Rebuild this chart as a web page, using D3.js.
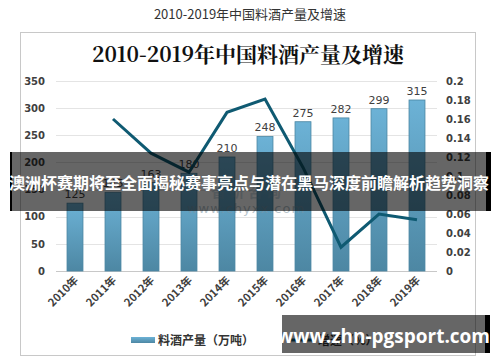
<!DOCTYPE html>
<html>
<head>
<meta charset="utf-8">
<script src="https://cdn.jsdelivr.net/npm/d3@7"></script>
<style>
  body { margin: 0; background: #fff; }
  svg { display: block; font-family: "Noto Sans CJK SC", "DejaVu Sans", sans-serif; }
</style>
</head>
<body>
<svg id="chart" width="500" height="362"></svg>
<script>
// data
const years = ["2010年", "2011年", "2012年", "2013年", "2014年", "2015年", "2016年", "2017年", "2018年", "2019年"];
const output = [125, 145, 163, 180, 210, 248, 275, 282, 299, 315];
const growth = [null, 0.16, 0.124, 0.104, 0.167, 0.181, 0.109, 0.025, 0.06, 0.054];
const leftTicks = [0, 50, 100, 150, 200, 250, 300, 350];
const rightTicks = [0, 0.02, 0.04, 0.06, 0.08, 0.1, 0.12, 0.14, 0.16, 0.18, 0.2];

const svg = d3.select("#chart");

// gradient for the bars
let defs = svg.append("defs");
let grad = defs.append("linearGradient").attr("id", "barGrad")
    .attr("x1", 0).attr("y1", 0).attr("x2", 0).attr("y2", 1);
grad.append("stop").attr("offset", "0%").attr("stop-color", "#6cb2d6");
grad.append("stop").attr("offset", "100%").attr("stop-color", "#4d87a3");

// outer title
svg.append("text")
    .attr("x", 250).attr("y", 19)
    .attr("text-anchor", "middle")
    .attr("font-size", "13px")
    .attr("fill", "#333")
    .text("2010-2019年中国料酒产量及增速");

// chart box
svg.append("rect")
    .attr("x", 20.5).attr("y", 32.5)
    .attr("width", 455).attr("height", 323)
    .attr("fill", "#fff")
    .attr("stroke", "#c8c8c8");

svg.append("text")
    .attr("x", 248).attr("y", 62)
    .attr("text-anchor", "middle")
    .attr("font-family", "'Noto Serif CJK SC', 'DejaVu Serif', serif")
    .attr("font-weight", "bold")
    .attr("font-size", "21px")
    .attr("fill", "#111")
    .text("2010-2019年中国料酒产量及增速");

const x = d3.scaleBand().domain(years).range([56, 436]).paddingInner(0.58).paddingOuter(0.29);
const yL = d3.scaleLinear().domain([0, 350]).range([271, 81]);
const yR = d3.scaleLinear().domain([0, 0.2]).range([271, 81]);

// grid
svg.append("g").selectAll("line")
    .data(leftTicks)
    .enter().append("line")
    .attr("x1", 56).attr("x2", 437)
    .attr("y1", d => Math.round(yL(d)) + 0.5)
    .attr("y2", d => Math.round(yL(d)) + 0.5)
    .attr("stroke", d => d === 0 ? "#c8c8c8" : "#e4e4e4");

// left axis
let axL = svg.append("g")
    .attr("transform", "translate(45,0)")
    .call(d3.axisLeft(yL).tickValues(leftTicks).tickSize(0).tickPadding(0));
axL.select(".domain").remove();
axL.selectAll("text")
    .attr("font-size", "10px").attr("font-weight", "bold")
    .attr("fill", "#404040").attr("font-family", "'DejaVu Sans', sans-serif");

// right axis
let axR = svg.append("g")
    .attr("transform", "translate(446,0)")
    .call(d3.axisRight(yR).tickValues(rightTicks).tickSize(0).tickPadding(0).tickFormat(d => d3.format("")(+d.toFixed(2))));
axR.select(".domain").remove();
axR.selectAll("text")
    .attr("font-size", "10px").attr("font-weight", "bold")
    .attr("fill", "#404040").attr("font-family", "'DejaVu Sans', sans-serif");

// bars
svg.append("g").selectAll("rect")
    .data(output)
    .enter().append("rect")
    .attr("x", (d, i) => x(years[i]))
    .attr("y", d => yL(d))
    .attr("width", x.bandwidth())
    .attr("height", d => yL(0) - yL(d))
    .attr("fill", "url(#barGrad)")
    .attr("stroke", "#4a86a2")
    .attr("stroke-width", 0.8);

// bar labels
svg.append("g").selectAll("text")
    .data(output)
    .enter().append("text")
    .attr("x", (d, i) => x(years[i]) + x.bandwidth() / 2)
    .attr("y", d => yL(d) - 5)
    .attr("text-anchor", "middle")
    .attr("font-size", "11px")
    .attr("font-family", "'DejaVu Sans', sans-serif")
    .attr("fill", "#404040")
    .text(d => d);

// watermark
svg.append("text")
    .attr("x", 246).attr("y", 197)
    .attr("text-anchor", "middle")
    .attr("font-size", "15px").attr("font-weight", "bold")
    .attr("fill", "#7fa6ba").attr("opacity", 0.35)
    .text("智 研 咨 询");
svg.append("text")
    .attr("x", 246).attr("y", 213)
    .attr("text-anchor", "middle")
    .attr("font-size", "13px")
    .attr("font-family", "'DejaVu Sans', sans-serif")
    .attr("letter-spacing", "1px")
    .attr("fill", "#7e97a6").attr("opacity", 0.55)
    .text("www.chyxx.com");

// growth line
let line = d3.line()
    .defined(d => d !== null)
    .x((d, i) => x(years[i]) + x.bandwidth() / 2)
    .y(d => yR(d));
svg.append("path")
    .datum(growth)
    .attr("d", line)
    .attr("fill", "none")
    .attr("stroke", "#0f5a72")
    .attr("stroke-width", 3)
    .attr("stroke-linejoin", "miter");

// x labels
svg.append("g").selectAll("text")
    .data(years)
    .enter().append("text")
    .attr("transform", d => `translate(${x(d) + x.bandwidth() / 2 + 4},${281}) rotate(-45)`)
    .attr("text-anchor", "end")
    .attr("font-size", "11px")
    .attr("font-weight", "bold")
    .attr("fill", "#404040")
    .attr("font-family", "'Noto Sans CJK SC', sans-serif")
    .text(d => d);

// legend
svg.append("rect")
    .attr("x", 131).attr("y", 337).attr("width", 24).attr("height", 6)
    .attr("fill", "url(#barGrad)");
svg.append("text")
    .attr("x", 158).attr("y", 345)
    .attr("font-size", "12px").attr("font-weight", "bold")
    .attr("fill", "#333")
    .text("料酒产量（万吨）");
svg.append("line")
    .attr("x1", 288).attr("x2", 313).attr("y1", 340).attr("y2", 340)
    .attr("stroke", "#0f5a72").attr("stroke-width", 3);
svg.append("text")
    .attr("x", 318).attr("y", 345)
    .attr("font-size", "12px").attr("font-weight", "bold")
    .attr("fill", "#333")
    .text("增速（%）");

// overlay banners
function banner(x0, y0, w, h, txt, size, ty, family) {
    svg.append("rect")
        .attr("x", x0).attr("y", y0).attr("width", w).attr("height", h)
        .attr("fill", "#000").attr("opacity", 0.6);
    svg.append("rect")
        .attr("x", x0 + w).attr("y", y0).attr("width", 5).attr("height", h)
        .attr("fill", "#000");
    svg.append("text")
        .attr("x", x0 + w / 2).attr("y", ty)
        .attr("text-anchor", "middle")
        .attr("font-size", size)
        .attr("font-weight", "bold")
        .attr("font-family", family)
        .attr("fill", "#fff")
        .text(txt);
}
svg.append("rect").attr("x", 10).attr("y", 152).attr("width", 2).attr("height", 59).attr("fill", "#000");
banner(12, 152, 474, 59, "澳洲杯赛期将至全面揭秘赛事亮点与潜在黑马深度前瞻解析趋势洞察", "16px", 189, "'Noto Sans CJK SC', sans-serif");
banner(282, 315, 203, 38, "www.zhn-pgsport.com", "19px", 343, "'Open Sans', 'DejaVu Sans', sans-serif");
</script>
</body>
</html>
